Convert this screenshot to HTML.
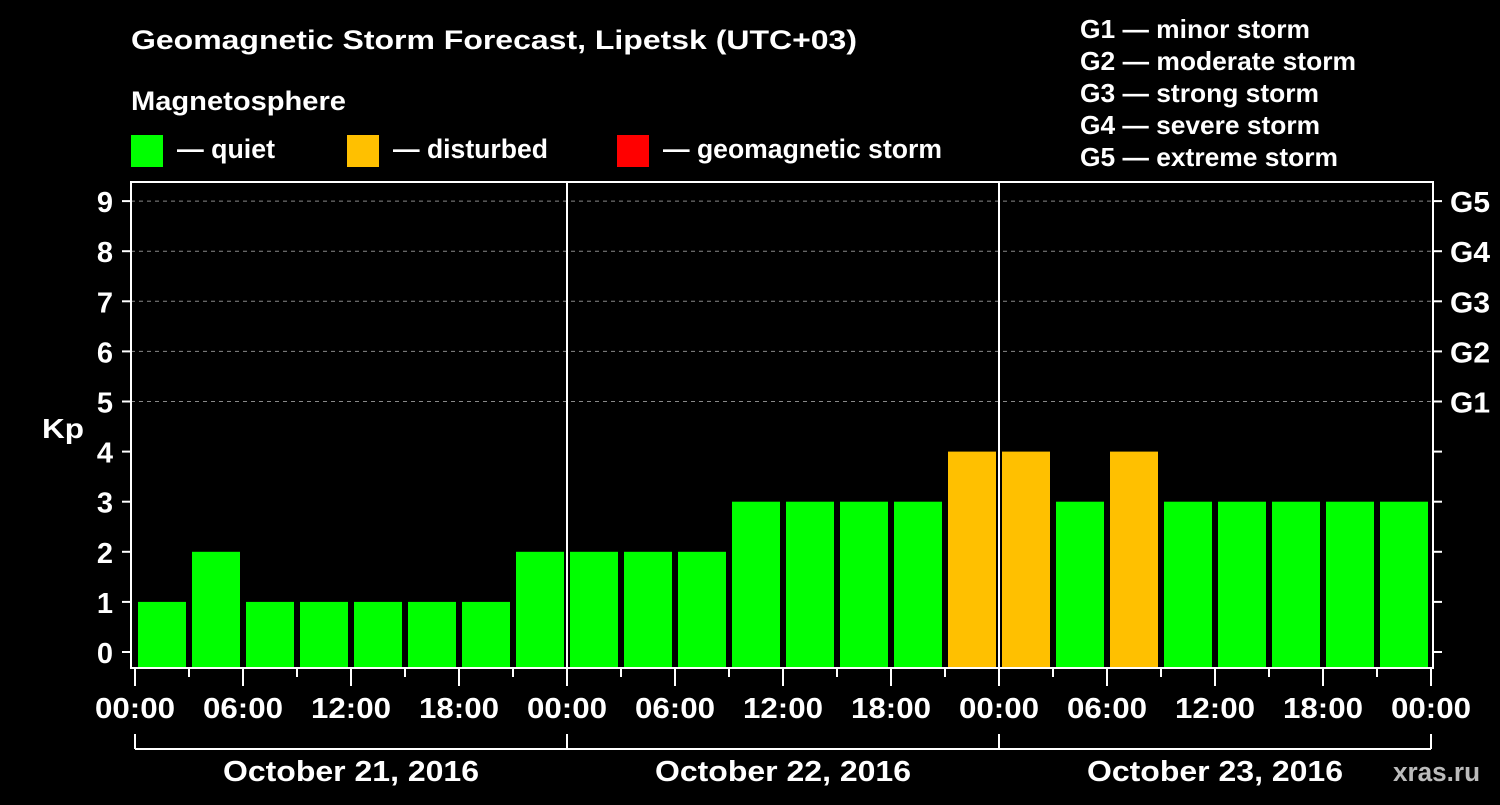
<!DOCTYPE html>
<html><head><meta charset="utf-8"><style>
body{margin:0;background:#000;}
svg text{font-family:"Liberation Sans",sans-serif;font-weight:bold;fill:#fff;}
</style></head><body>
<svg id="c" width="1500" height="800" viewBox="0 0 1500 800">
<rect width="1500" height="800" fill="#000"/>
<text x="131" y="49" font-size="27" textLength="726" lengthAdjust="spacingAndGlyphs">Geomagnetic Storm Forecast, Lipetsk (UTC+03)</text>
<text x="131" y="110" font-size="27" textLength="215" lengthAdjust="spacingAndGlyphs">Magnetosphere</text>
<g><rect x="131" y="135" width="32" height="32" fill="#00ff00"/><text x="177" y="158" font-size="27" textLength="98" lengthAdjust="spacingAndGlyphs">— quiet</text></g>
<g><rect x="347" y="135" width="32" height="32" fill="#ffc000"/><text x="393" y="158" font-size="27" textLength="155" lengthAdjust="spacingAndGlyphs">— disturbed</text></g>
<g><rect x="617" y="135" width="32" height="32" fill="#ff0000"/><text x="663" y="158" font-size="27" textLength="279" lengthAdjust="spacingAndGlyphs">— geomagnetic storm</text></g>
<g font-size="26">
<text x="1080" y="38" textLength="230" lengthAdjust="spacingAndGlyphs">G1 — minor storm</text>
<text x="1080" y="70" textLength="276" lengthAdjust="spacingAndGlyphs">G2 — moderate storm</text>
<text x="1080" y="102" textLength="239" lengthAdjust="spacingAndGlyphs">G3 — strong storm</text>
<text x="1080" y="134" textLength="240" lengthAdjust="spacingAndGlyphs">G4 — severe storm</text>
<text x="1080" y="166" textLength="258" lengthAdjust="spacingAndGlyphs">G5 — extreme storm</text>
</g>
<text x="42" y="438" font-size="28" textLength="42" lengthAdjust="spacingAndGlyphs">Kp</text>
<text x="1393" y="781" font-size="27" textLength="87" lengthAdjust="spacingAndGlyphs" style="fill:#bbb">xras.ru</text>
<g id="grid"></g><g id="bars"></g><g id="axes"></g>
</svg>
<script>
const values=[1,2,1,1,1,1,1,2, 2,2,2,3,3,3,3,4, 4,3,4,3,3,3,3,3];
const yTicks=[0,1,2,3,4,5,6,7,8,9];
const gLabels=["G1","G2","G3","G4","G5"];
const gLevels=[5,6,7,8,9];
const xLabels=["00:00","06:00","12:00","18:00","00:00","06:00","12:00","18:00","00:00","06:00","12:00","18:00","00:00"];
const dayLabels=["October 21, 2016","October 22, 2016","October 23, 2016"];
const NS="http://www.w3.org/2000/svg";
const L=131,R=1433,T=182,B=668;
const y=v=>652-v*50.1;
const x=h=>135+h*18;
function mk(p,tag,a){const e=document.createElementNS(NS,tag);for(const k in a)e.setAttribute(k,a[k]);document.getElementById(p).appendChild(e);return e;}
gLevels.forEach((v,i)=>{
 const l=mk('grid','line',{x1:L,x2:R,y1:y(v),y2:y(v),stroke:'#888','stroke-dasharray':'4,4','stroke-width':1});
 
 
 const t=mk('axes','text',{x:1450,y:y(v)+11,'font-size':29,textLength:40,lengthAdjust:'spacingAndGlyphs'});t.textContent=gLabels[i];
 
 
});
values.forEach((v,i)=>{
 const col=v>=5?'#ff0000':(v>=4?'#ffc000':'#00ff00');
 const r=mk('bars','rect',{x:x(i*3)+3,y:y(v),width:48,height:B-y(v),fill:col});
 
 
});
const f=mk('axes','rect',{x:L,y:T,width:R-L,height:B-T,fill:'none',stroke:'#fff','stroke-width':2});


[1,2].forEach(d=>{const l=mk('axes','line',{x1:x(d*24),x2:x(d*24),y1:T,y2:B,stroke:'#fff','stroke-width':2});
 
 });
yTicks.forEach(v=>{
 mk('axes','line',{x1:L-9,x2:L,y1:y(v),y2:y(v),stroke:'#fff','stroke-width':2});
 mk('axes','line',{x1:R,x2:R+9,y1:y(v),y2:y(v),stroke:'#fff','stroke-width':2});
 const t=mk('axes','text',{x:113,y:y(v)+11,'font-size':29,'text-anchor':'end'});t.textContent=v;
 
 
});
for(let h=0;h<=72;h+=3){
 const maj=h%6===0;
 mk('axes','line',{x1:x(h),x2:x(h),y1:B,y2:B+(maj?18:9),stroke:'#fff','stroke-width':2});
}
xLabels.forEach((s,i)=>{
 const t=mk('axes','text',{x:x(i*6),y:718,'font-size':29,'text-anchor':'middle',textLength:80,lengthAdjust:'spacingAndGlyphs'});t.textContent=s;
 
 
});
mk('axes','line',{x1:x(0),x2:x(72),y1:749,y2:749,stroke:'#fff','stroke-width':2});
for(let d=0;d<=3;d++) mk('axes','line',{x1:x(d*24),x2:x(d*24),y1:734,y2:749,stroke:'#fff','stroke-width':2});
dayLabels.forEach((s,i)=>{
 const t=mk('axes','text',{x:x(i*24+12),y:781,'font-size':29,'text-anchor':'middle',textLength:256,lengthAdjust:'spacingAndGlyphs'});t.textContent=s;
 
 
});
</script>
</body></html>
